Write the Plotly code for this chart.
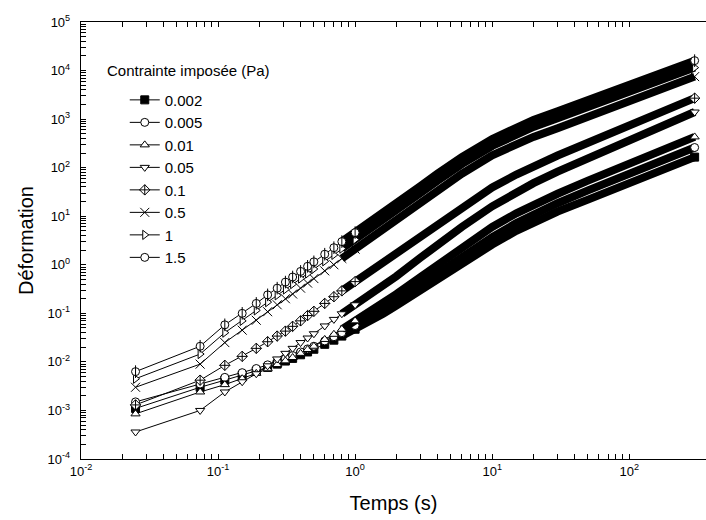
import plotly.graph_objects as go

# temps (s)
temps = [0.025, 0.074, 0.112, 0.15, 0.19, 0.23, 0.27, 0.31, 0.35, 0.4, 0.45, 0.5,
         0.6, 0.7, 0.8, 1.0, 1.3, 1.6, 2, 3, 4, 6, 10, 15, 20, 30, 50, 70, 100,
         150, 200, 300]

contraintes = ["0.002", "0.005", "0.01", "0.05", "0.1", "0.5", "1", "1.5"]

def_0002 = [0.0011, 0.003, 0.0042, 0.0053, 0.0065, 0.0077, 0.009, 0.0104, 0.0118,
            0.014, 0.016, 0.0182, 0.023, 0.028, 0.034, 0.047, 0.07, 0.098, 0.145,
            0.3, 0.52, 1.1, 2.6, 5.0, 7.6, 12.5, 22, 32, 47, 74, 104, 165]
def_0005 = [0.0015, 0.0035, 0.0048, 0.006, 0.0073, 0.0087, 0.0102, 0.0118, 0.0135,
            0.016, 0.0185, 0.021, 0.027, 0.033, 0.04, 0.056, 0.085, 0.12, 0.18,
            0.39, 0.68, 1.45, 3.7, 7.2, 11, 18.5, 34, 49, 74, 114, 160, 260]
def_001 = [0.00085, 0.0024, 0.0034, 0.0045, 0.0058, 0.0072, 0.0088, 0.0105, 0.0123,
           0.015, 0.018, 0.021, 0.029, 0.037, 0.047, 0.07, 0.11, 0.16, 0.25,
           0.56, 1.0, 2.2, 6, 11.5, 17.5, 29, 54, 79, 118, 188, 260, 430]
def_005 = [0.00036, 0.001, 0.0024, 0.0039, 0.0057, 0.0083, 0.0115, 0.015, 0.019,
           0.025, 0.031, 0.038, 0.055, 0.075, 0.098, 0.15, 0.26, 0.38, 0.58,
           1.4, 2.6, 6.0, 16, 31, 48, 83, 158, 238, 360, 580, 830, 1400]
def_01 = [0.0013, 0.0042, 0.0085, 0.013, 0.019, 0.026, 0.034, 0.043, 0.054,
          0.07, 0.09, 0.11, 0.16, 0.22, 0.29, 0.45, 0.75, 1.1, 1.75,
          3.9, 7.0, 15.5, 39, 72, 106, 178, 325, 475, 715, 1140, 1640, 2700]
def_05 = [0.003, 0.009, 0.025, 0.045, 0.072, 0.108, 0.15, 0.2, 0.25,
          0.33, 0.42, 0.52, 0.75, 1.0, 1.35, 2.1, 3.5, 5.4, 8.5,
          19, 34, 75, 180, 310, 430, 650, 1100, 1550, 2250, 3400, 4600, 7500]
def_1 = [0.0045, 0.0145, 0.04, 0.07, 0.115, 0.17, 0.235, 0.31, 0.4,
         0.52, 0.66, 0.82, 1.18, 1.6, 2.15, 3.3, 5.6, 8.6, 13.5,
         30, 54, 118, 280, 490, 690, 1040, 1750, 2450, 3550, 5300, 7300, 11500]
def_15 = [0.0063, 0.021, 0.058, 0.1, 0.16, 0.24, 0.33, 0.44, 0.56,
          0.73, 0.93, 1.15, 1.65, 2.25, 3.0, 4.6, 7.8, 12, 19,
          42, 76, 165, 390, 690, 960, 1450, 2450, 3450, 4900, 7300, 10000, 16000]

deformations = [def_0002, def_0005, def_001, def_005, def_01, def_05, def_1, def_15]
symboles = ["square", "circle", "triangle-up", "triangle-down", "diamond-cross",
            "x-thin-open", "triangle-right", "circle"]

# graduations : décades étiquetées + graduations secondaires sans texte
def graduations(e_min, e_max, suffixe=""):
    vals, texts = [], []
    for e in range(e_min, e_max + 1):
        vals.append(10.0 ** e)
        texts.append("10<sup>%d</sup>%s" % (e, suffixe))
        if e < e_max:
            for m in range(2, 10):
                vals.append(m * 10.0 ** e)
                texts.append("")
    return vals, texts

x_ticks, x_labels = graduations(-2, 2)
y_ticks, y_labels = graduations(-4, 5, "\u00a0\u00a0")

FONT = "Liberation Sans, Arial, sans-serif"

fig = go.Figure()

for lab, vals, sym in zip(contraintes, deformations, symboles):
    # partie dense : les marqueurs se recouvrent en bande noire
    xd = [t for t in temps if t >= 0.8]
    yd = [v for t, v in zip(temps, vals) if t >= 0.8]
    fig.add_trace(go.Scatter(x=xd, y=yd, mode="lines",
                             line=dict(color="black", width=8),
                             showlegend=False, hoverinfo="skip"))

    xs = [t for t in temps if t <= 1.0]
    ys = [v for t, v in zip(temps, vals) if t <= 1.0]
    fill = "black" if lab == "0.002" else "white"
    if sym == "x-thin-open":
        mk = dict(symbol=sym, size=9, color="black", line=dict(color="black", width=1))
    else:
        mk = dict(symbol=sym, size=8, color=fill, line=dict(color="black", width=1))
    fig.add_trace(go.Scatter(x=xs, y=ys, mode="lines+markers", name=lab,
                             line=dict(color="black", width=1), marker=mk))
    fig.add_trace(go.Scatter(x=[temps[-1]], y=[vals[-1]], mode="markers",
                             marker=mk, showlegend=False))
    if lab == "1.5":
        fig.add_trace(go.Scatter(x=xs + [temps[-1]], y=ys + [vals[-1]], mode="markers",
                                 marker=dict(symbol="line-ns-open", size=9, color="black",
                                             line=dict(color="black", width=1)),
                                 showlegend=False))

axe = dict(type="log", showgrid=False, zeroline=False, automargin=False,
           showline=True, linecolor="black", linewidth=1,
           ticks="inside", ticklen=5, tickcolor="black",
           tickfont=dict(family=FONT, size=13, color="black"))

fig.update_layout(
    width=706, height=520,
    margin=dict(l=81, r=0, t=22, b=61),
    plot_bgcolor="white", paper_bgcolor="white",
    font=dict(family=FONT, color="black"),
    xaxis=dict(axe, range=[-2, 2.56], mirror="ticks", tickmode="array",
               tickvals=x_ticks, ticktext=x_labels,
               title=dict(text="Temps (s)", font=dict(family=FONT, size=20), standoff=18)),
    yaxis=dict(axe, range=[-4, 5], mirror=False, tickmode="array",
               tickvals=y_ticks, ticktext=y_labels,
               title=dict(text="Déformation", font=dict(family=FONT, size=20), standoff=8)),
    legend=dict(x=0.07, y=0.859, xanchor="left", yanchor="top", tracegroupgap=0,
                bgcolor="rgba(0,0,0,0)", font=dict(family=FONT, size=15)),
    annotations=[dict(text="Contrainte imposée (Pa)", x=0.038, y=0.89, xref="paper", yref="paper",
                      xanchor="left", yanchor="middle", showarrow=False,
                      font=dict(family=FONT, size=15))],
)

# supprime la marge de 8 px que le navigateur met autour de la page
fig.write_html("out.html", config={"displayModeBar": False},
               post_script="document.body.style.margin = '0';")
